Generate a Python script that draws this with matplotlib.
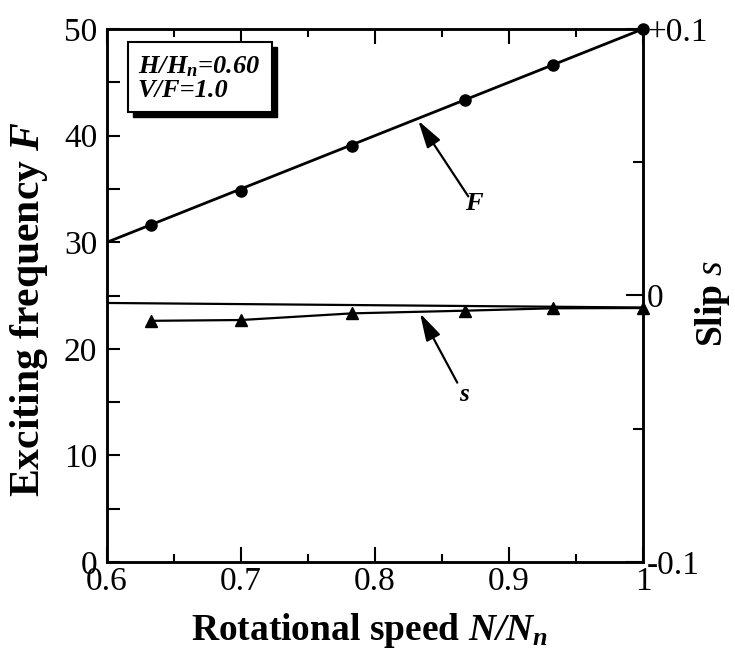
import matplotlib
matplotlib.use("Agg")
import matplotlib.pyplot as plt
from matplotlib.patches import Rectangle
from matplotlib.ticker import MultipleLocator, FixedLocator

plt.rcParams['font.family'] = ['Liberation Serif', 'DejaVu Serif']
plt.rcParams['mathtext.fontset'] = 'custom'
plt.rcParams['mathtext.rm'] = 'Liberation Serif'
plt.rcParams['mathtext.it'] = 'Liberation Serif:italic'
plt.rcParams['mathtext.bf'] = 'Liberation Serif:bold'
plt.rcParams['mathtext.bfit'] = 'Liberation Serif:italic:bold'

# ---- data ----
N = [0.633, 0.700, 0.783, 0.867, 0.933, 1.000]
F = [31.6, 34.8, 39.0, 43.3, 46.6, 50.0]
s = [-0.0095, -0.0092, -0.0067, -0.0057, -0.0048, -0.0047]
F_line_N = [0.6, 1.0]
F_line = [30.0, 50.0]
s_ref_N = [0.6, 1.0]
s_ref = [-0.0028, -0.0045]

x_ticks = [0.6, 0.7, 0.8, 0.9, 1.0]
x_ticklabels = ['0.6', '0.7', '0.8', '0.9', '1']
yl_ticks = [0, 10, 20, 30, 40, 50]
yr_ticks = [-0.1, 0.0, 0.1]
yr_ticklabels = ['-0.1', '0', '+0.1']

W, H = 735, 669
fig = plt.figure(figsize=(W / 100, H / 100), dpi=100)
ax = fig.add_axes([107/W, 1-562/H, 536/W, 533/H])
ax2 = ax.twinx()

ax.plot(F_line_N, F_line, color='black', lw=2.0, zorder=3)
ax.plot(N, F, 'o', color='black', ms=8, zorder=4, clip_on=False)

ax2.plot(s_ref_N, s_ref, color='black', lw=1.6, zorder=3)
ax2.plot(N, s, '-^', color='black', lw=1.6, ms=8, zorder=4, clip_on=False)

ax.set_xlim(0.6, 1.0)
ax.set_ylim(0, 50)
ax2.set_ylim(-0.1, 0.1)

tick_fs = 24
ax.set_xticks(x_ticks)
ax.set_xticklabels(x_ticklabels, fontsize=tick_fs)
ax.xaxis.set_minor_locator(MultipleLocator(0.05))
ax.set_yticks(yl_ticks)
ax.set_yticklabels([str(v) for v in yl_ticks], fontsize=tick_fs)
ax.yaxis.set_minor_locator(MultipleLocator(5))
ax2.set_yticks(yr_ticks)
ax2.set_yticklabels(yr_ticklabels, fontsize=tick_fs)
ax2.yaxis.set_minor_locator(FixedLocator([-0.05, 0.05]))

ax.tick_params(axis='x', which='major', direction='in', length=11, width=1.5,
               top=True, pad=3)
ax.tick_params(axis='x', which='minor', direction='in', length=6, width=1.5, top=True)
ax.tick_params(axis='y', which='major', direction='in', length=9, width=1.5, pad=7)
ax.tick_params(axis='y', which='minor', direction='in', length=9, width=1.5)
ax2.tick_params(axis='y', which='major', direction='in', length=12, width=1.5, pad=3)
ax2.tick_params(axis='y', which='minor', direction='in', length=7, width=1.5)

for sp in ax.spines.values():
    sp.set_linewidth(1.8)
for sp in ax2.spines.values():
    sp.set_linewidth(1.8)

# Axis labels placed in figure pixel positions
fig.text(370 / W, 1 - 630 / H, r'Rotational speed $\mathbfit{N/N_n}$', fontsize=27,
         fontweight='bold', ha='center', va='center')
fig.text(29 / W, 1 - 309 / H, r'Exciting frequency $\mathbfit{F}$', fontsize=30,
         fontweight='bold', ha='center', va='center', rotation=90)
fig.text(712 / W, 1 - 303 / H, r'Slip $\mathit{s}$', fontsize=27,
         fontweight='bold', ha='center', va='center', rotation=90)

# Parameter box with drop shadow
bx, by, bw, bh = 0.039, 0.844, 0.269, 0.132
ax.add_patch(Rectangle((bx + 0.010, by - 0.010), bw, bh, transform=ax.transAxes,
                       facecolor='black', edgecolor='black', zorder=5))
ax.add_patch(Rectangle((bx, by), bw, bh, transform=ax.transAxes,
                       facecolor='white', edgecolor='black', lw=1.5, zorder=6))
ax.text(bx + 0.018, by + bh / 2 - 0.003,
        'H/H' + r'$_{\mathbfit{n}}$' + '=0.60\nV/F=1.0',
        transform=ax.transAxes, fontsize=19, fontweight='bold', fontstyle='italic',
        va='center', ha='left', zorder=7, linespacing=1.0)

# Annotations
arrow = dict(arrowstyle='-|>,head_length=0.6,head_width=0.17', color='black', lw=1.6,
             mutation_scale=28, shrinkA=0, shrinkB=0)
ax.annotate('', xy=(0.8323, 41.4), xytext=(0.8696, 34.3), arrowprops=arrow, zorder=5)
ax.text(0.8746, 33.6, r'$\mathbfit{F}$', fontsize=19, ha='center', va='center')
ax2.annotate('', xy=(0.8336, -0.0067), xytext=(0.8614, -0.0327), arrowprops=arrow, zorder=5)
ax2.text(0.8672, -0.0373, r'$\mathbfit{s}$', fontsize=18, ha='center', va='center')

fig.savefig('out.png', dpi=100)
